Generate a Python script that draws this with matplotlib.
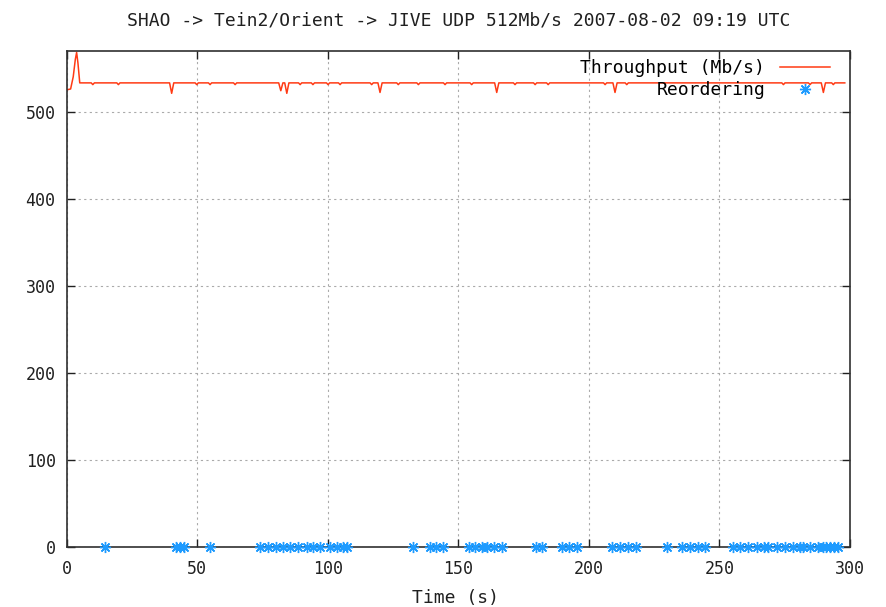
import matplotlib
matplotlib.use('Agg')
import matplotlib.pyplot as plt

# throughput trace: (time s, Mb/s) break points of the polyline
thr_t = [0, 1.5, 2.5, 3.3, 3.8, 4.3, 5.0,
         9.4, 10.0, 10.6, 19.2, 19.8, 20.4,
         39.4, 40.2, 41.0, 49.2, 49.8, 50.4, 54.3, 54.9, 55.5, 63.9, 64.5, 65.1,
         81.2, 82.0, 82.8, 83.5, 84.3, 85.1, 85.9, 88.8, 89.4, 90.0,
         93.7, 94.3, 94.9, 99.5, 100.1, 100.7, 104.1, 104.7, 105.3, 116.2, 116.8, 117.4,
         119.2, 120.0, 120.8, 126.4, 127.0, 127.6, 134.1, 134.7, 135.3, 144.3, 144.9, 145.5,
         154.5, 155.1, 155.7, 163.9, 164.7, 165.5, 171.1, 171.7, 172.3, 178.8, 179.4, 180.0,
         183.8, 184.4, 185.0, 205.6, 206.2, 206.8, 209.2, 210.0, 210.8, 213.9, 214.5, 215.1,
         273.9, 274.5, 275.1, 284.1, 284.7, 285.3, 289.0, 289.8, 290.6, 293.0, 293.6, 294.2,
         298.0]
thr_v = [525, 526, 540, 560, 568, 556, 533,
         533, 531, 533, 533, 531, 533,
         533, 521, 533, 533, 531, 533, 533, 531, 533, 533, 531, 533,
         533, 524, 533, 533, 521, 533, 533, 533, 531, 533,
         533, 531, 533, 533, 531, 533, 533, 531, 533, 533, 531, 533,
         533, 522, 533, 533, 531, 533, 533, 531, 533, 533, 531, 533,
         533, 531, 533, 533, 522, 533, 533, 531, 533, 533, 531, 533,
         533, 531, 533, 533, 531, 533, 533, 522, 533, 533, 531, 533,
         533, 531, 533, 533, 531, 533, 533, 522, 533, 533, 531, 533,
         533]

# times (s) where reordered packets were seen
reorder_t = [14.7, 41.9, 43.4, 45.0, 54.9, 74.0, 77.1, 80.2, 82.8, 85.5, 88.6, 92.0,
             94.3, 97.0, 100.8, 103.5, 105.8, 107.4, 132.6, 139.1, 141.4, 144.1,
             154.0, 156.4, 159.1, 161.0, 163.7, 166.7, 179.7, 182.0, 189.7, 192.4, 195.4,
             208.8, 211.9, 215.0, 218.0, 229.9, 235.7, 238.7, 241.8, 244.5,
             255.2, 257.9, 260.9, 264.4, 267.1, 268.6, 272.0, 275.1, 278.2, 280.8,
             282.0, 284.7, 287.7, 289.7, 290.8, 292.3, 293.8, 295.4]
reorder_v = [0] * len(reorder_t)

xticks = [0, 50, 100, 150, 200, 250, 300]
yticks = [0, 100, 200, 300, 400, 500]

plt.rcParams['font.family'] = ['DejaVu Sans Mono']

fig = plt.figure(figsize=(8.87, 6.07), dpi=100)
ax = fig.add_axes([66.7 / 887, 1 - 546.5 / 607, (850 - 66.7) / 887, (546.5 - 50.7) / 607])

ax.plot(thr_t, thr_v, color='#ff3a14', linewidth=1.1, label='Throughput (Mb/s)')
ax.plot(reorder_t, reorder_v, linestyle='none', marker=(8, 2, 0), markersize=8,
        markeredgewidth=1.0, color='#1e9bff', label='Reordering', clip_on=False, zorder=5)

ax.set_xlim(0, 300)
ax.set_ylim(0, 570)
ax.set_xticks(xticks)
ax.set_yticks(yticks)
ax.tick_params(direction='in', length=6, width=1, top=True, right=True,
               labelsize=12, colors='#202020')
ax.tick_params(axis='x', pad=10)
ax.tick_params(axis='y', pad=8)
ax.grid(True, color='#aaaaaa', linestyle=(0, (2, 3)), linewidth=0.8)
for s in ax.spines.values():
    s.set_color('#303030')
    s.set_linewidth(1.2)

ax.set_title('SHAO -> Tein2/Orient -> JIVE UDP 512Mb/s 2007-08-02 09:19 UTC',
             fontsize=13, pad=18, color='#202020')
fig.text(456 / 887, 1 - 598 / 607, 'Time (s)', ha='center', va='center',
         fontsize=13, color='#202020')

leg = ax.legend(loc='upper right', frameon=False, markerfirst=False, fontsize=13,
                handlelength=2.8, borderaxespad=0.0, labelspacing=0.22,
                bbox_to_anchor=(0.984, 0.998))

fig.savefig('out.png', dpi=100)
